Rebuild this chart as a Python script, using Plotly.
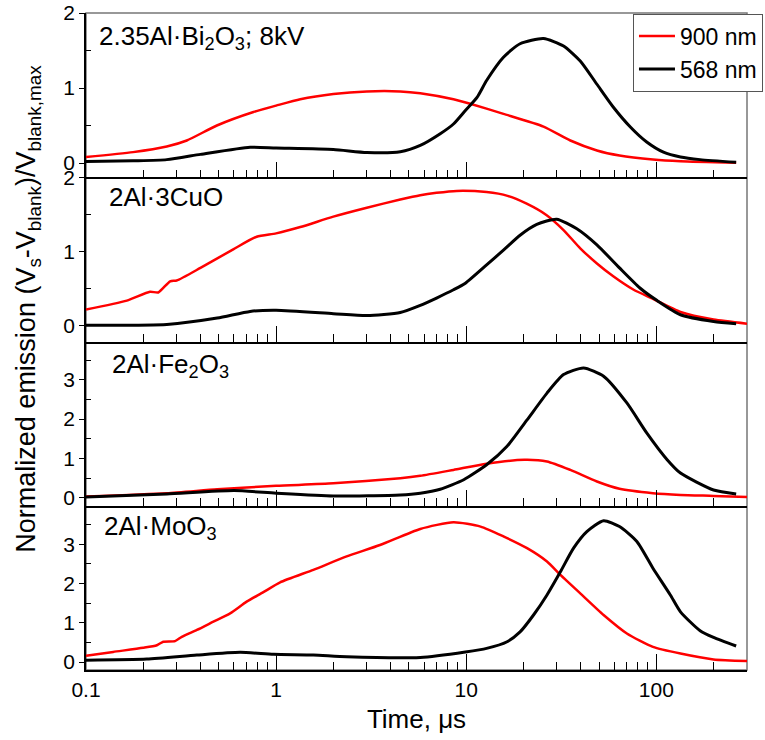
import plotly.graph_objects as go

# ---------------- data (time in microseconds, normalized emission) ----------------
bi_red_t = [0.1, 0.177, 0.266, 0.339, 0.488, 0.76, 1.0, 1.34, 2.0, 3.0, 4.5, 5.73, 8.57, 10.5, 15.7, 25.5, 35.3, 48.7, 64, 96, 134, 263]
bi_red_v = [0.08, 0.145, 0.22, 0.30, 0.50, 0.68, 0.765, 0.85, 0.92, 0.955, 0.955, 0.93, 0.85, 0.79, 0.655, 0.486, 0.30, 0.167, 0.10, 0.048, 0.025, 0.005]
bi_blk_t = [0.1, 0.177, 0.266, 0.4, 0.73, 1.0, 2.0, 3.0, 4.5, 5.73, 7.3, 8.57, 9.9, 11.4, 12.8, 15.7, 19.2, 25.5, 32.5, 39.8, 48.7, 59.6, 73, 89, 109, 134, 170, 263]
bi_blk_v = [0.02, 0.03, 0.045, 0.115, 0.21, 0.20, 0.18, 0.14, 0.15, 0.234, 0.39, 0.52, 0.70, 0.875, 1.10, 1.41, 1.59, 1.66, 1.56, 1.36, 1.05, 0.74, 0.48, 0.28, 0.145, 0.08, 0.045, 0.01]

cu_red_t = [0.1, 0.164, 0.217, 0.24, 0.277, 0.30, 0.4, 0.595, 0.79, 1.0, 1.34, 2.0, 3.0, 4.5, 5.73, 6.98, 8.9, 12.8, 16.5, 20.8, 26.5, 32.5, 39.8, 48.7, 59.6, 76, 96, 134, 200, 300]
cu_red_v = [0.22, 0.34, 0.46, 0.45, 0.60, 0.61, 0.78, 1.03, 1.20, 1.245, 1.33, 1.47, 1.59, 1.70, 1.758, 1.79, 1.816, 1.80, 1.75, 1.645, 1.49, 1.29, 1.044, 0.84, 0.664, 0.486, 0.365, 0.187, 0.085, 0.03]
cu_blk_t = [0.1, 0.266, 0.49, 0.73, 1.0, 2.0, 3.0, 4.5, 5.73, 6.98, 8.57, 9.9, 12.8, 15.7, 19.2, 23.5, 29.9, 38, 48.7, 64, 82, 101, 134, 200, 263]
cu_blk_v = [0.01, 0.02, 0.105, 0.195, 0.21, 0.165, 0.14, 0.18, 0.276, 0.375, 0.486, 0.575, 0.82, 1.02, 1.22, 1.365, 1.436, 1.31, 1.09, 0.78, 0.51, 0.34, 0.15, 0.06, 0.03]

fe_red_t = [0.1, 0.266, 0.49, 1.0, 2.0, 4.5, 5.73, 8.57, 12.8, 20.2, 26.6, 35.3, 48.7, 64, 96, 134, 200, 300]
fe_red_v = [0.035, 0.12, 0.22, 0.305, 0.37, 0.50, 0.56, 0.71, 0.865, 0.967, 0.925, 0.71, 0.415, 0.23, 0.12, 0.076, 0.05, 0.02]
fe_blk_t = [0.1, 0.266, 0.6, 1.0, 2.0, 4.5, 5.73, 7.3, 9.7, 12.8, 16.4, 20.9, 26.6, 32.5, 41.4, 52.8, 70, 89, 114, 134, 200, 263]
fe_blk_v = [0.02, 0.1, 0.185, 0.12, 0.05, 0.076, 0.12, 0.22, 0.46, 0.84, 1.31, 1.98, 2.66, 3.13, 3.30, 3.09, 2.41, 1.65, 0.97, 0.63, 0.20, 0.10]

mo_red_t = [0.1, 0.139, 0.20, 0.236, 0.255, 0.294, 0.319, 0.383, 0.468, 0.573, 0.70, 0.857, 1.05, 1.57, 2.35, 3.52, 5.73, 8.57, 11.9, 15.7, 20.9, 26.6, 31.3, 39.8, 52.8, 70, 96, 134, 200, 300]
mo_red_v = [0.16, 0.26, 0.365, 0.43, 0.52, 0.535, 0.645, 0.82, 1.03, 1.24, 1.54, 1.78, 2.03, 2.35, 2.69, 2.98, 3.39, 3.56, 3.45, 3.20, 2.90, 2.56, 2.22, 1.75, 1.20, 0.73, 0.39, 0.22, 0.07, 0.03]
mo_blk_t = [0.1, 0.209, 0.383, 0.647, 0.97, 1.57, 2.35, 5.73, 9.9, 12.8, 16.4, 19.2, 22.6, 26.6, 31.3, 36.7, 43.1, 52.8, 64, 79, 96, 118.5, 134, 170, 200, 263]
mo_blk_v = [0.05, 0.077, 0.18, 0.25, 0.20, 0.18, 0.135, 0.12, 0.26, 0.35, 0.52, 0.77, 1.20, 1.71, 2.30, 2.90, 3.32, 3.60, 3.45, 3.07, 2.39, 1.71, 1.28, 0.80, 0.63, 0.41]

panel_labels = ["2.35Al·Bi<sub>2</sub>O<sub>3</sub>; 8kV", "2Al·3CuO", "2Al·Fe<sub>2</sub>O<sub>3</sub>", "2Al·MoO<sub>3</sub>"]
y_ranges = [[-0.19, 2.0], [-0.21, 2.0], [-0.2, 3.97], [-0.2, 3.98]]
y_major = [[0, 1, 2], [0, 1, 2], [0, 1, 2, 3], [0, 1, 2, 3]]
y_minor = [[0.5, 1.5], [0.5, 1.5], [0.5, 1.5, 2.5, 3.5], [0.5, 1.5, 2.5, 3.5]]
x_major = [0.1, 1, 10, 100]
x_minor = [v * d for d in (0.1, 1, 10) for v in range(2, 10)] + [200, 300]
x_labels = ["0.1", "1", "10", "100"]

series = [
    (bi_red_t, bi_red_v, bi_blk_t, bi_blk_v),
    (cu_red_t, cu_red_v, cu_blk_t, cu_blk_v),
    (fe_red_t, fe_red_v, fe_blk_t, fe_blk_v),
    (mo_red_t, mo_red_v, mo_blk_t, mo_blk_v),
]

FONT = "Arial, Liberation Sans, sans-serif"
fig = go.Figure()

for i, (rt, rv, bt, bv) in enumerate(series):
    n = "" if i == 0 else str(i + 1)
    fig.add_trace(go.Scatter(x=rt, y=rv, mode="lines", name="900 nm", legendrank=1,
                             line=dict(color="#ff0000", width=2.5, shape="spline", smoothing=0.6),
                             xaxis="x" + n, yaxis="y" + n, showlegend=(i == 0)))
    fig.add_trace(go.Scatter(x=bt, y=bv, mode="lines", name="568 nm", legendrank=2,
                             line=dict(color="#000000", width=3, shape="spline", smoothing=0.6),
                             xaxis="x" + n, yaxis="y" + n, showlegend=(i == 0)))

layout = dict(
    width=765, height=740,
    margin=dict(l=86, r=18, t=13, b=70, autoexpand=False),
    plot_bgcolor="white", paper_bgcolor="white",
    font=dict(family=FONT, size=21, color="black"),
    showlegend=True,
    legend=dict(x=0.8275, y=0.999, xanchor="left", yanchor="top",
                bgcolor="white", bordercolor="#555555", borderwidth=1,
                font=dict(size=23), tracegroupgap=0, itemwidth=36),
)

for i in range(4):
    n = "" if i == 0 else str(i + 1)
    top = 1 - 0.25 * i
    bot = 1 - 0.25 * (i + 1)
    xa = dict(type="log", range=[-1, 2.477], domain=[0, 1], anchor="y" + n,
              showline=True, linecolor="black", linewidth=1.5, showgrid=False, zeroline=False,
              tickmode="array", tickvals=x_major, ticktext=x_labels,
              ticks="inside", ticklen=16, tickwidth=1, tickcolor="black",
              minor=dict(tickmode="array", tickvals=x_minor, ticks="inside", ticklen=8,
                         tickwidth=1, tickcolor="black", showgrid=False),
              showticklabels=(i == 3), tickfont=dict(size=21))
    if i > 0:
        xa["matches"] = "x"
    if i == 3:
        xa["title"] = dict(text="Time, μs", font=dict(size=26), standoff=10)
    ya = dict(domain=[bot, top], range=y_ranges[i], anchor="x" + n,
              showline=True, linecolor="black", linewidth=1.5, showgrid=False, zeroline=False,
              tickmode="array", tickvals=y_major[i], ticks="outside", ticklen=5,
              tickwidth=1, tickcolor="black",
              minor=dict(tickmode="array", tickvals=y_minor[i], ticks="inside", ticklen=5,
                         tickwidth=1, tickcolor="black", showgrid=False),
              tickfont=dict(size=21))
    layout["xaxis" + n] = xa
    layout["yaxis" + n] = ya

fig.update_layout(**layout)

# gray frame (top/right)
fig.add_shape(type="rect", xref="paper", yref="paper", x0=0, x1=1, y0=0, y1=1,
              line=dict(color="#777777", width=1.5), layer="below")

label_pos = [(0.016, 0.85), (0.032, 0.88), (0.036, 0.855), (0.024, 0.87)]
for i, txt in enumerate(panel_labels):
    n = "" if i == 0 else str(i + 1)
    fig.add_annotation(text=txt, xref="x domain" if i == 0 else "x%s domain" % n,
                       yref="y domain" if i == 0 else "y%s domain" % n,
                       x=label_pos[i][0], y=label_pos[i][1], xanchor="left", yanchor="middle",
                       showarrow=False, font=dict(size=26, family=FONT))

fig.add_annotation(text="Normalized emission (V<sub>s</sub>-V<sub>blank</sub>)/V<sub>blank,max</sub>",
                   xref="paper", yref="paper", x=-0.0877, y=0.55, textangle=-90,
                   xanchor="center", yanchor="middle", showarrow=False,
                   font=dict(size=27, family=FONT))

fig.write_html("out.html")
